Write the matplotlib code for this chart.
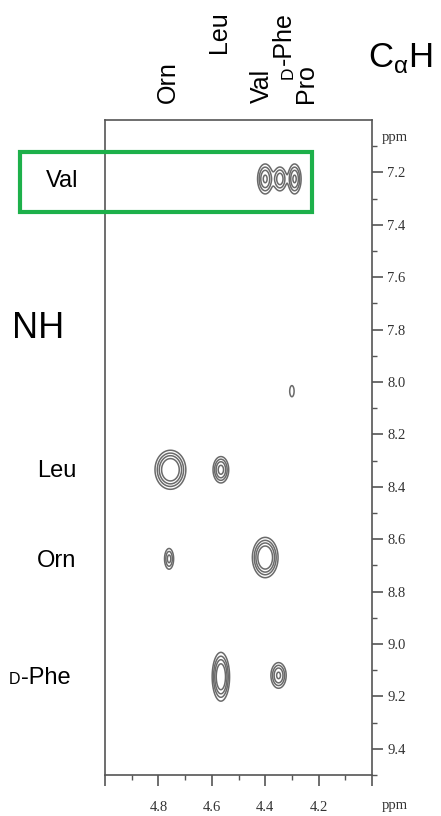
import numpy as np
import matplotlib
matplotlib.use('Agg')
import matplotlib.pyplot as plt
from matplotlib.patches import Rectangle
from matplotlib.ticker import FixedLocator

plt.rcParams['font.family'] = ['Liberation Sans', 'DejaVu Sans']
plt.rcParams['mathtext.fontset'] = 'custom'
plt.rcParams['mathtext.rm'] = 'Liberation Sans'

# cross peaks: CaH shift (x), NH shift (y), widths, intensity
peak_x = [4.400, 4.345, 4.290, 4.300, 4.755, 4.566, 4.760, 4.400, 4.566, 4.350]
peak_y = [7.225, 7.225, 7.225, 8.035, 8.335, 8.335, 8.675, 8.670, 9.125, 9.120]
peak_sx = [0.014, 0.013, 0.012, 0.007, 0.024, 0.014, 0.0095, 0.020, 0.014, 0.014]
peak_sy = [0.028, 0.024, 0.028, 0.018, 0.031, 0.024, 0.022, 0.032, 0.040, 0.024]
peak_amp = [0.8, 0.6, 0.8, 0.2, 1.8, 0.9, 0.5, 1.8, 1.5, 0.8]
levels = [0.1, 0.22, 0.4, 0.7]

x_ticks = [5.0, 4.8, 4.6, 4.4, 4.2, 4.0]
x_labels = ['', '4.8', '4.6', '4.4', '4.2', '']
y_ticks = [7.2, 7.4, 7.6, 7.8, 8.0, 8.2, 8.4, 8.6, 8.8, 9.0, 9.2, 9.4]

W, H = 441, 816
fig = plt.figure(figsize=(W / 100, H / 100), dpi=100)
ax = fig.add_axes([105 / W, 1 - 775 / H, 267 / W, 655 / H])


def fx(px):
    return px / W


def fy(py):
    return 1 - py / H


gx = np.linspace(4.0, 5.0, 700)
gy = np.linspace(7.0, 9.5, 1400)
X, Y = np.meshgrid(gx, gy)
Z = np.zeros_like(X)
for x0, y0, sx, sy, a in zip(peak_x, peak_y, peak_sx, peak_sy, peak_amp):
    Z += a * np.exp(-((X - x0) ** 2 / (2 * sx ** 2) + (Y - y0) ** 2 / (2 * sy ** 2)))
ax.contour(X, Y, Z, levels=levels, colors='#6a6a6a', linewidths=1.1)

ax.set_xlim(5.0, 4.0)
ax.set_ylim(9.5, 7.0)

gray = '#555555'
for s in ax.spines.values():
    s.set_color(gray)
    s.set_linewidth(1.2)

ax.yaxis.tick_right()
ax.xaxis.tick_bottom()
ax.xaxis.set_major_locator(FixedLocator(x_ticks))
ax.set_xticklabels(x_labels)
ax.xaxis.set_minor_locator(FixedLocator([4.9, 4.7, 4.5, 4.3, 4.1]))
ax.yaxis.set_major_locator(FixedLocator(y_ticks))
ax.set_yticklabels(['%.1f' % v for v in y_ticks])
ax.yaxis.set_minor_locator(FixedLocator([7.1, 7.3, 7.5, 7.7, 7.9, 8.1, 8.3, 8.5,
                                         8.7, 8.9, 9.1, 9.3, 9.5]))
ax.tick_params(which='major', length=8, width=1.2, color=gray, pad=3,
               labelsize=10.5, labelcolor='#333333')
ax.tick_params(which='minor', length=3.5, width=1.0, color=gray)
for lab in ax.get_xticklabels() + ax.get_yticklabels():
    lab.set_family('Liberation Serif')
ax.tick_params(axis='x', pad=11)

fig.text(fx(395), fy(138), 'ppm', family='Liberation Serif', fontsize=10.5,
         color='#333333', ha='center', va='center')
fig.text(fx(395), fy(806), 'ppm', family='Liberation Serif', fontsize=10.5,
         color='#333333', ha='center', va='center')

# residue labels along the top (CaH)
fig.text(fx(168), fy(103), 'Orn', rotation=90, fontsize=18, ha='center', va='bottom')
fig.text(fx(219), fy(53), 'Leu', rotation=90, fontsize=18, ha='center', va='bottom')
fig.text(fx(262), fy(103), 'Val', rotation=90, fontsize=18, ha='center', va='bottom')
fig.text(fx(306), fy(103), 'Pro', rotation=90, fontsize=18, ha='center', va='bottom')
fig.text(fx(288), fy(79), 'D', rotation=90, fontsize=12.5, ha='center', va='bottom')
fig.text(fx(284), fy(65), '-Phe', rotation=90, fontsize=18, ha='center', va='bottom')
fig.text(fx(400), fy(58), r'C$_{\mathrm{\alpha}}$H', fontsize=25, ha='center', va='center')

# residue labels on the left (NH)
fig.text(fx(38), fy(328), 'NH', fontsize=26, ha='center', va='center')
fig.text(fx(62), fy(181), 'Val', fontsize=17, ha='center', va='center')
fig.text(fx(57), fy(471), 'Leu', fontsize=17, ha='center', va='center')
fig.text(fx(57), fy(561), 'Orn', fontsize=17, ha='center', va='center')
fig.text(fx(9), fy(684), 'D', fontsize=11.5, ha='left', va='baseline')
fig.text(fx(21), fy(684), '-Phe', fontsize=17, ha='left', va='baseline')

fig.patches.append(Rectangle((fx(20), fy(212)), fx(292), 60 / H, fill=False,
                             edgecolor='#1db04a', linewidth=3,
                             transform=fig.transFigure))

fig.savefig('out.png', dpi=100)
